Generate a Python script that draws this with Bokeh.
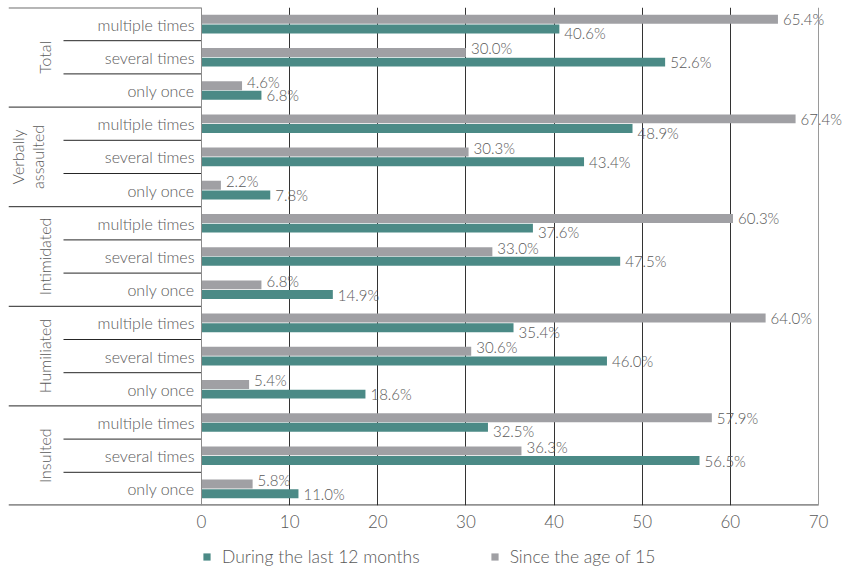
import math
from bokeh.plotting import figure
from bokeh.layouts import column
from bokeh.models import (ColumnDataSource, FactorRange, Range1d, FixedTicker,
                          Legend, LegendItem, Span)
from bokeh.transform import dodge
from bokeh.core.properties import value
from bokeh.embed import file_html
from bokeh.resources import INLINE

# ---------------- data ----------------
groups = ["Total", "Verbally\nassaulted", "Intimidated", "Humiliated", "Insulted"]
subs = ["multiple times", "several times", "only once"]
last_12_months = [40.6, 52.6, 6.8,
                  48.9, 43.4, 7.8,
                  37.6, 47.5, 14.9,
                  35.4, 46.0, 18.6,
                  32.5, 56.5, 11.0]
since_age_15 = [65.4, 30.0, 4.6,
                67.4, 30.3, 2.2,
                60.3, 33.0, 6.8,
                64.0, 30.6, 5.4,
                57.9, 36.3, 5.8]
series_names = ["During the last 12 months", "Since the age of 15"]
x_ticks = [0, 10, 20, 30, 40, 50, 60, 70]

# ---------------- styling / geometry ----------------
TEAL = "#4b8a86"
GREY = "#a0a0a4"
TXT = "#595959"
FONT = "Lato Light, Lato"
LEFT, TOP, BOTTOM = 8, 7, 30
FRAME_W, FRAME_H = 838, 498
LEGEND_H = 33
ZERO_PX, SEVENTY_PX = 193, 810          # frame-relative pixel positions of 0 and 70
PXU = (SEVENTY_PX - ZERO_PX) / 70.0
X_START = -ZERO_PX / PXU
X_END = 70 + (FRAME_W - SEVENTY_PX) / PXU

def px_to_x(px):
    return (px - ZERO_PX) / PXU

factors = [(g, s) for g in groups for s in subs]

p = figure(width=LEFT + FRAME_W, height=TOP + FRAME_H + BOTTOM,
           frame_width=FRAME_W, frame_height=FRAME_H,
           x_range=Range1d(X_START, X_END),
           y_range=FactorRange(factors=list(reversed(factors)),
                               factor_padding=0, group_padding=0,
                               subgroup_padding=0, range_padding=0),
           output_backend="svg", toolbar_location=None,
           min_border_left=LEFT, min_border_right=0, min_border_top=TOP,
           min_border_bottom=BOTTOM)
p.outline_line_color = None
p.yaxis.visible = False
p.ygrid.visible = False
p.background_fill_color = "white"
p.border_fill_color = "white"

p.xgrid.ticker = FixedTicker(ticks=x_ticks[1:-1])
p.xgrid.grid_line_color = "#333333"
p.xgrid.grid_line_width = 1

ax = p.xaxis[0]
ax.ticker = FixedTicker(ticks=x_ticks)
ax.axis_line_color = None
ax.major_tick_line_color = None
ax.minor_tick_line_color = None
ax.major_tick_out = 0
ax.major_tick_in = 0
ax.major_label_standoff = 9
ax.major_label_text_font = FONT
ax.major_label_text_font_size = "17px"
ax.major_label_text_color = TXT

# ---------------- sources ----------------
g_off = [-4 if t > s else 0 for t, s in zip(last_12_months, since_age_15)]
t_off = [4 if s > t else 0 for t, s in zip(last_12_months, since_age_15)]
src = ColumnDataSource(dict(
    cat=factors,
    sub=[f[1] for f in factors],
    teal=last_12_months,
    grey=since_age_15,
    teal_lbl=["%.1f%%" % v for v in last_12_months],
    grey_lbl=["%.1f%%" % v for v in since_age_15],
    g_off=g_off, t_off=t_off,
))

BAR_H = 0.27
DOD = 0.145
p.hbar(y=dodge("cat", DOD, range=p.y_range), left=0, right="grey",
       height=BAR_H, source=src, fill_color=GREY, line_color=None)
p.hbar(y=dodge("cat", -DOD, range=p.y_range), left=0, right="teal",
       height=BAR_H, source=src, fill_color=TEAL, line_color=None)

p.text(x="grey", y=dodge("cat", DOD, range=p.y_range), text="grey_lbl", source=src,
       x_offset=5, y_offset="g_off", text_align="left", text_baseline="middle",
       text_font=value(FONT), text_font_size="15px", text_color=TXT)
p.text(x="teal", y=dodge("cat", -DOD, range=p.y_range), text="teal_lbl", source=src,
       x_offset=5, y_offset="t_off", text_align="left", text_baseline="middle",
       text_font=value(FONT), text_font_size="15px", text_color=TXT)

# sub-category labels
p.text(x=0, y="cat", text="sub", source=src, x_offset=-7,
       text_align="right", text_baseline="middle",
       text_font=value(FONT), text_font_size="16px", text_color=TXT)

# group labels (rotated)
gsrc = ColumnDataSource(dict(
    cat=[(g, subs[1]) for g in groups],
    name=groups,
    x=[px_to_x(36 - 17 * g.count("\n")) for g in groups],
))
p.text(x="x", y="cat", text="name", source=gsrc, angle=math.pi / 2,
       text_align="center", text_baseline="middle", text_line_height=1.1,
       text_font=value(FONT), text_font_size="16px", text_color=TXT)

# separators
SEP = "#262626"
sub_sep = ColumnDataSource(dict(cat=[(g, s) for g in groups for s in subs[:-1]]))
p.segment(x0=px_to_x(55), x1=0, y0=dodge("cat", -0.5, range=p.y_range),
          y1=dodge("cat", -0.5, range=p.y_range), source=sub_sep,
          line_color=SEP, line_width=1)
grp_sep = ColumnDataSource(dict(cat=[(g, subs[-1]) for g in groups[:-1]]))
p.segment(x0=X_START, x1=0, y0=dodge("cat", -0.5, range=p.y_range),
          y1=dodge("cat", -0.5, range=p.y_range), source=grp_sep,
          line_color=SEP, line_width=1)
top_sep = ColumnDataSource(dict(cat=[(groups[0], subs[0])]))
p.segment(x0=X_START, x1=0, y0=dodge("cat", 0.49, range=p.y_range),
          y1=dodge("cat", 0.49, range=p.y_range), source=top_sep,
          line_color=SEP, line_width=1)
bot_sep = ColumnDataSource(dict(cat=[(groups[-1], subs[-1])]))
p.segment(x0=X_START, x1=x_ticks[-1], y0=dodge("cat", -0.49, range=p.y_range),
          y1=dodge("cat", -0.49, range=p.y_range), source=bot_sep,
          line_color=SEP, line_width=1.2)

p.add_layout(Span(location=x_ticks[0], dimension="height", line_color="#8c8c8c", line_width=1))
p.add_layout(Span(location=x_ticks[-1], dimension="height", line_color="#9a9a9a", line_width=1))

# ---------------- legend strip (own small figure below the chart) ----------------
# The key glyphs draw the same series, but the strip's x-range lies below 0,
# so only the legend swatches are visible.
lg = figure(width=LEFT + FRAME_W, height=LEGEND_H,
            frame_width=LEFT + FRAME_W, frame_height=LEGEND_H,
            x_range=Range1d(-2, -1), y_range=Range1d(0, 1),
            output_backend="svg", toolbar_location=None,
            min_border_left=0, min_border_right=0, min_border_top=0,
            min_border_bottom=0)
lg.axis.visible = False
lg.grid.visible = False
lg.outline_line_color = None
lg.border_fill_color = "white"
lg.background_fill_color = "white"
key_src = ColumnDataSource(dict(teal=last_12_months, grey=since_age_15,
                                y=[0.5] * len(last_12_months)))
key_teal = lg.hbar(y="y", left=0, right="teal", height=0.3, source=key_src,
                   fill_color=TEAL, line_color=None)
key_grey = lg.hbar(y="y", left=0, right="grey", height=0.3, source=key_src,
                   fill_color=GREY, line_color=None)

legend = Legend(items=[LegendItem(label=series_names[0], renderers=[key_teal], index=0),
                       LegendItem(label=series_names[1], renderers=[key_grey], index=0)],
                orientation="horizontal", location=(LEFT + ZERO_PX + 1, 1),
                glyph_width=9, glyph_height=9, label_standoff=11, spacing=70,
                padding=0, margin=0, border_line_color=None,
                background_fill_alpha=0,
                label_text_font=FONT, label_text_font_size="17.5px",
                label_text_color=TXT)
lg.add_layout(legend, "center")

open("out.html", "w").write(file_html(column(p, lg, spacing=0), INLINE))
